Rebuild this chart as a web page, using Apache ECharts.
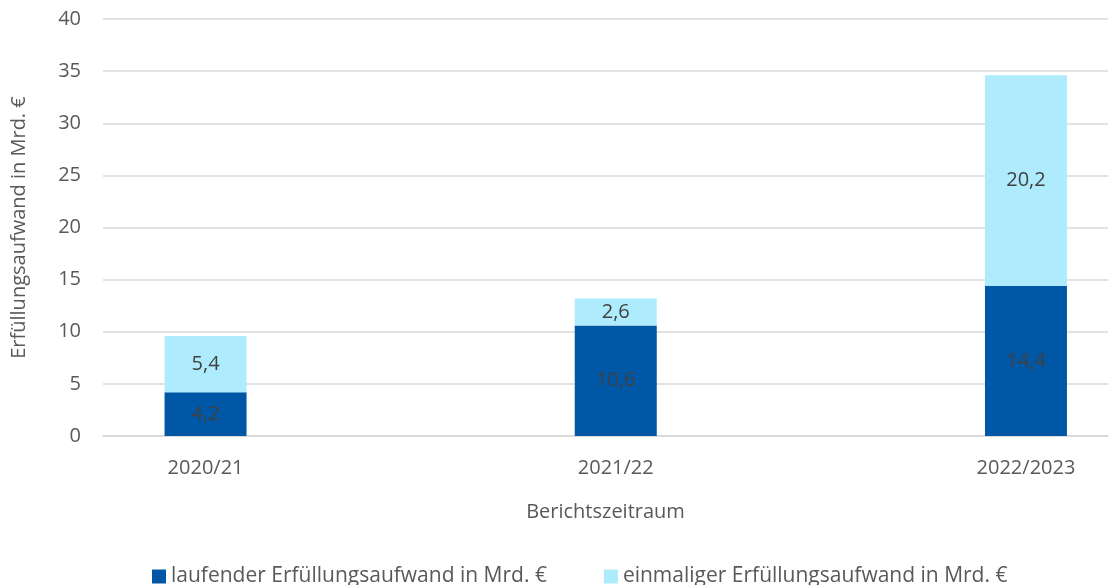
<!DOCTYPE html>
<html>
<head>
<meta charset="utf-8">
<script src="https://cdn.jsdelivr.net/npm/echarts@6/dist/echarts.min.js"></script>
<style>
  html, body { margin: 0; padding: 0; background: #fff; }
  #chart { width: 1117px; height: 585px; }
</style>
</head>
<body>
<div id="chart"></div>
<script>
// Berichtszeiträume und Werte (Mrd. €)
var categories = ['2020/21', '2021/22', '2022/2023'];
var laufend = [4.2, 10.6, 14.4];
var einmalig = [5.4, 2.6, 20.2];
var seriesNames = ['laufender Erfüllungsaufwand in Mrd. €', 'einmaliger Erfüllungsaufwand in Mrd. €'];
var yTicks = [0, 5, 10, 15, 20, 25, 30, 35, 40];

var font = '"Open Sans", "Noto Sans", sans-serif';
var textColor = '#595959';

function fmt(p) {
    return p.value[0].toFixed(1).replace('.', ',');
}

// [Wert, Kategorie-Index] – Wert zuerst, damit auf y gestapelt wird
function toPoints(arr) {
    return arr.map(function(v, i) { return [v, i]; });
}

var myChart = echarts.init(document.getElementById('chart'));
myChart.setOption({
    animation: false,
    textStyle: { fontFamily: font },
    grid: { left: 103, right: 9, top: 19, bottom: 149, outerBoundsMode: 'none', containLabel: false },
    legend: {
        top: 561,
        left: 147,
        itemGap: 57,
        itemWidth: 14,
        itemHeight: 14,
        icon: 'rect',
        textStyle: { fontFamily: font, fontSize: 21, color: textColor },
        data: seriesNames
    },
    xAxis: {
        type: 'value',
        min: -0.25,
        max: 2.2,
        name: 'Berichtszeitraum',
        nameLocation: 'middle',
        nameGap: 66,
        nameTextStyle: { fontFamily: font, fontSize: 20, color: textColor },
        axisLine: { show: true, onZero: false, lineStyle: { color: '#d9d9d9', width: 1.5 } },
        axisTick: { show: false },
        splitLine: { show: false },
        axisLabel: {
            fontFamily: font, fontSize: 20, color: textColor, margin: 22,
            customValues: [0, 1, 2],
            formatter: function(v) { return categories[Math.round(v)]; }
        }
    },
    yAxis: {
        type: 'value',
        min: yTicks[0],
        max: yTicks[yTicks.length - 1],
        interval: 5,
        name: 'Erfüllungsaufwand in Mrd. €',
        nameLocation: 'middle',
        nameGap: 74,
        nameTextStyle: { fontFamily: font, fontSize: 20, color: textColor },
        axisLine: { show: false },
        axisTick: { show: false },
        axisLabel: { fontFamily: font, fontSize: 20, color: textColor, margin: 22 },
        splitLine: { lineStyle: { color: '#d9d9d9', width: 1.5 } }
    },
    series: [{
        name: seriesNames[0],
        type: 'bar',
        stack: 'total',
        barWidth: 82,
        encode: { x: 1, y: 0 },
        data: toPoints(laufend),
        itemStyle: { color: '#0057A6' },
        label: { show: true, position: 'inside', formatter: fmt, fontFamily: font, fontSize: 20, color: '#404040' }
    }, {
        name: seriesNames[1],
        type: 'bar',
        stack: 'total',
        barWidth: 82,
        encode: { x: 1, y: 0 },
        data: toPoints(einmalig),
        itemStyle: { color: '#AEEBFD' },
        label: { show: true, position: 'inside', formatter: fmt, fontFamily: font, fontSize: 20, color: '#404040' }
    }]
});
</script>
</body>
</html>
